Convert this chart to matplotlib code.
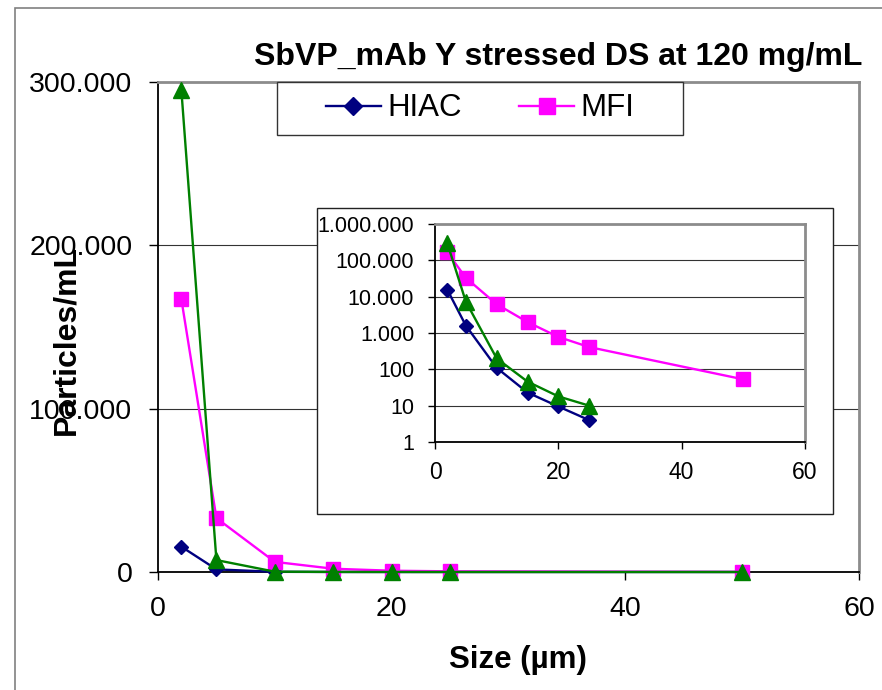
import matplotlib
matplotlib.use('Agg')
import matplotlib.pyplot as plt
import matplotlib.ticker as mt
from matplotlib.patches import Rectangle
from matplotlib.lines import Line2D

plt.rcParams['font.family'] = ['Liberation Sans', 'DejaVu Sans']

# particle size bins (µm)
sizes = [2, 5, 10, 15, 20, 25, 50]
hiac = [15500, 1600, 110, 23, 9.5, 4, 0]
mfi = [167000, 33000, 6200, 2000, 780, 410, 53]
third = [295000, 7300, 200, 46, 18, 10, 0]

title = 'SbVP_mAb Y stressed DS at 120 mg/mL'
W, H = 882, 690


def fx(px):
    return px / W


def fy(py):
    return 1 - py / H


def dots(v, _):
    return f'{int(round(v)):,}'.replace(',', '.')


def draw(ax, ms_scale=1.0, clip=True):
    ax.plot(sizes, hiac, color='#000080', lw=1.7, marker='D', ms=7.5 * ms_scale,
            label='HIAC', zorder=3, clip_on=clip)
    ax.plot(sizes, mfi, color='#FF00FF', lw=1.7, marker='s', ms=10.5 * ms_scale,
            label='MFI', zorder=3, clip_on=clip)
    ax.plot(sizes, third, color='#008000', lw=1.7, marker='^', ms=11.5 * ms_scale,
            label='_nolegend_', zorder=4, clip_on=clip)


def style(ax):
    for s in ('left', 'bottom'):
        ax.spines[s].set_color('black')
        ax.spines[s].set_linewidth(1.3)
    for s in ('top', 'right'):
        ax.spines[s].set_color('#8c8c8c')
        ax.spines[s].set_linewidth(2)
    ax.grid(axis='y', color='#333333', lw=0.8)
    ax.set_axisbelow(True)


fig = plt.figure(figsize=(W / 100, H / 100), dpi=100)

# chart area border
fig.patches.append(Rectangle((fx(15), -0.1), 1.2, fy(8) + 0.1, transform=fig.transFigure,
                             fill=False, edgecolor='#808080', lw=1.2, zorder=0))

# main chart
ax = fig.add_axes([fx(158), fy(572), fx(859) - fx(158), fy(82) - fy(572)])
draw(ax, clip=False)
ax.set_xlim(0, 60)
ax.set_ylim(0, 300000)
ax.set_xticks([0, 20, 40, 60])
ax.set_yticks([0, 100000, 200000, 300000])
ax.yaxis.set_major_formatter(mt.FuncFormatter(dots))
ax.tick_params(axis='y', labelsize=20.5, length=6.5, width=1, pad=12, direction='out')
ax.tick_params(axis='x', labelsize=20.5, length=6, width=1, pad=11, direction='out')
style(ax)

fig.text(fx(66), fy(340), 'Particles/mL', rotation=90, ha='center', va='center',
         fontsize=23, fontweight='bold', zorder=10)
fig.text(fx(518), fy(660), 'Size (µm)', ha='center', va='center',
         fontsize=22.5, fontweight='bold')
fig.text(fx(862), fy(65), title, ha='right', va='baseline',
         fontsize=23, fontweight='bold')

# legend box
fig.patches.append(Rectangle((fx(277), fy(135)), fx(683) - fx(277), fy(82) - fy(135),
                             transform=fig.transFigure, facecolor='white',
                             edgecolor='#333333', lw=1, zorder=5))
handles = [Line2D([], [], color='#000080', lw=1.7, marker='D', ms=9),
           Line2D([], [], color='#FF00FF', lw=1.7, marker='s', ms=11)]
leg = fig.legend(handles, ['HIAC', 'MFI'], loc='center', ncol=2, frameon=False,
                 bbox_to_anchor=((fx(277) + fx(683)) / 2, (fy(82) + fy(135)) / 2),
                 bbox_transform=fig.transFigure, fontsize=22.5, handlelength=1.75,
                 handletextpad=0.2, columnspacing=1.85)
leg.set_zorder(6)

# inset log chart
fig.patches.append(Rectangle((fx(317), fy(514)), fx(833) - fx(317), fy(208) - fy(514),
                             transform=fig.transFigure, facecolor='white',
                             edgecolor='#222222', lw=1, zorder=2))
ins = fig.add_axes([fx(435), fy(442), fx(805) - fx(435), fy(224) - fy(442)], zorder=3)
draw(ins, 1.0)
ins.set_yscale('log', nonpositive='mask')
ins.set_xlim(0, 60)
ins.set_ylim(1, 1e6)
ins.set_xticks([0, 20, 40, 60])
ins.set_yticks([1, 10, 100, 1e3, 1e4, 1e5, 1e6])
ins.yaxis.set_minor_locator(mt.NullLocator())
ins.yaxis.set_major_formatter(mt.FuncFormatter(dots))
ins.tick_params(axis='y', labelsize=15.5, length=5, width=1, pad=10)
ins.tick_params(axis='x', labelsize=16.5, length=5, width=1, pad=9)
style(ins)

fig.savefig('out.png', dpi=100)
